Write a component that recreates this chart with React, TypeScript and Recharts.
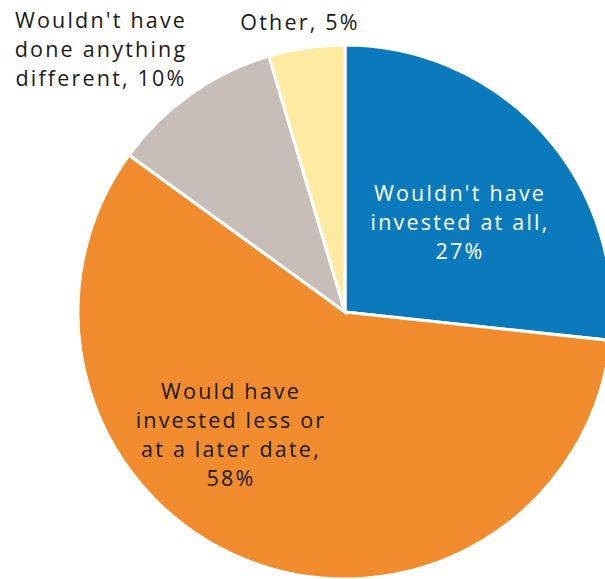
import React from "react";
import { PieChart, Pie, Cell } from "recharts";

const categories = [
  "Wouldn't have invested at all",
  "Would have invested less or at a later date",
  "Wouldn't have done anything different",
  "Other",
];
const values = [26.7, 58.3, 10.4, 4.6];
const labelLines = [
  ["Wouldn't have", "invested at all,", "27%"],
  ["Would have", "invested less or", "at a later date,", "58%"],
  ["Wouldn't have", "done anything", "different, 10%"],
  ["Other, 5%"],
];
const colors = ["#0A7ABD", "#F08C2E", "#C8BEB8", "#FFEAA1"];
const textColors = ["#FFFFFF", "#1A1A1A", "#1A1A1A", "#1A1A1A"];

const data = categories.map((name, i) => ({ name, value: values[i] }));

// label anchor offsets relative to pie centre (styling only)
const labelOffsets = [
  { dx: 115, dy: -120 },
  { dx: -114, dy: 78 },
  { dx: -244, dy: -293 },
  { dx: -45, dy: -291 },
];

const FONT = "'Open Sans', sans-serif";
const LINE = 29;

const renderLabel = (props: any) => {
  const { cx, cy, index } = props;
  const lines = labelLines[index];
  const off = labelOffsets[index];
  const x = cx + off.dx;
  const y0 = cy + off.dy;
  return (
    <text
      key={`lbl-${index}`}
      x={x}
      y={y0}
      textAnchor="middle"
      dominantBaseline="central"
      fill={textColors[index]}
      fontFamily={FONT}
      fontSize={21.5}
      letterSpacing={2.2}
    >
      {lines.map((l, i) => (
        <tspan key={i} x={x} y={y0 + i * LINE}>
          {l}
        </tspan>
      ))}
    </text>
  );
};

export default function App() {
  return (
    <div style={{ position: "absolute", left: 0, top: 0, width: 605, height: 579, background: "#fff" }}>
      <PieChart width={605} height={579} margin={{ top: 0, right: 0, bottom: 0, left: 0 }}>
        <Pie
          data={data}
          dataKey="value"
          nameKey="name"
          cx={345}
          cy={312}
          outerRadius={267}
          startAngle={90}
          endAngle={-270}
          stroke="#FFFFFF"
          strokeWidth={3}
          label={renderLabel}
          labelLine={false}
          isAnimationActive={false}
        >
          {data.map((d, i) => (
            <Cell key={d.name} fill={colors[i]} />
          ))}
        </Pie>
      </PieChart>
    </div>
  );
}
